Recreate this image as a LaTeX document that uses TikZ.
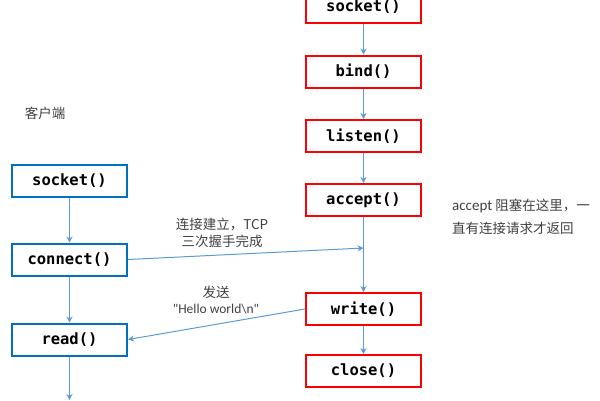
\documentclass[tikz,border=0pt]{standalone}
\usepackage{fontspec}
\setmainfont{Carlito}
\setmonofont{DejaVu Sans Mono}
\newfontfamily\cjk{Noto Sans CJK SC}
\usepackage{xcolor}
\usetikzlibrary{arrows.meta}
\definecolor{clientBlue}{RGB}{0,112,192}
\definecolor{serverRed}{RGB}{255,0,0}
\definecolor{flowBlue}{RGB}{91,155,213}
\definecolor{noteGray}{RGB}{64,64,64}

\begin{document}
\begin{tikzpicture}[x=1pt, y=-1pt,
  call/.style={draw, line width=2pt, minimum width=115pt, minimum height=32pt,
    inner sep=0pt, font=\ttfamily\bfseries\fontsize{15.5}{18}\selectfont},
  client/.style={call, draw=clientBlue},
  server/.style={call, draw=serverRed},
  flow/.style={draw=flowBlue, line width=1pt, -{Stealth[length=6pt, width=6pt]}},
  note/.style={text=noteGray, font=\fontsize{13.5}{16}\selectfont, inner sep=0pt}]
  \useasboundingbox (0,0) rectangle (600,400);
  % server side
  \node[server] (ssocket) at (363.5,6.5) {socket()};
  \node[server] (sbind)   at (363.5,71.5) {bind()};
  \node[server] (slisten) at (363.5,136) {listen()};
  \node[server] (saccept) at (363.5,200) {accept()};
  \node[server] (swrite)  at (363.5,309) {write()};
  \node[server] (sclose)  at (363.5,371) {close()};
  \coordinate (shake) at (363.5,248);
  % client side
  \node[note] (ctitle) at (45,113) {\cjk 客户端};
  \node[client] (csocket)  at (69.5,180.5) {socket()};
  \node[client] (cconnect) at (69.5,259.5) {connect()};
  \node[client] (cread)    at (69.5,339.5) {read()};
  \coordinate (cend) at (69.5,400);
  % notes
  \node[note, align=center] (nhandshake) at (222,233) {\cjk 连接建立，TCP\\[1pt]\cjk 三次握手完成};
  \node[note, align=center] (nsend) at (216,300) {\cjk 发送\\[0pt]{\fontsize{13.5}{15}\selectfont \textquotedbl Hello world\textbackslash n\textquotedbl}};
  \node[note, align=left, anchor=west] (naccept) at (452,217) {{\fontsize{15}{16}\selectfont accept} {\cjk 阻塞在这里，一}\\[7pt]{\cjk 直有连接请求才返回}};

  \draw[flow] (ssocket) -- (sbind);
  \draw[flow] (sbind) -- (slisten);
  \draw[flow] (slisten) -- (saccept);
  \draw[flow] (saccept) -- (swrite);
  \draw[flow] (swrite) -- (sclose);
  \draw[flow] (csocket) -- (cconnect);
  \draw[flow] (cconnect) -- (cread);
  \draw[flow] (cread) -- (cend);
  \draw[flow] (cconnect.east) -- (shake);
  \draw[flow] (swrite.west) -- (cread.east);
\end{tikzpicture}
\end{document}
